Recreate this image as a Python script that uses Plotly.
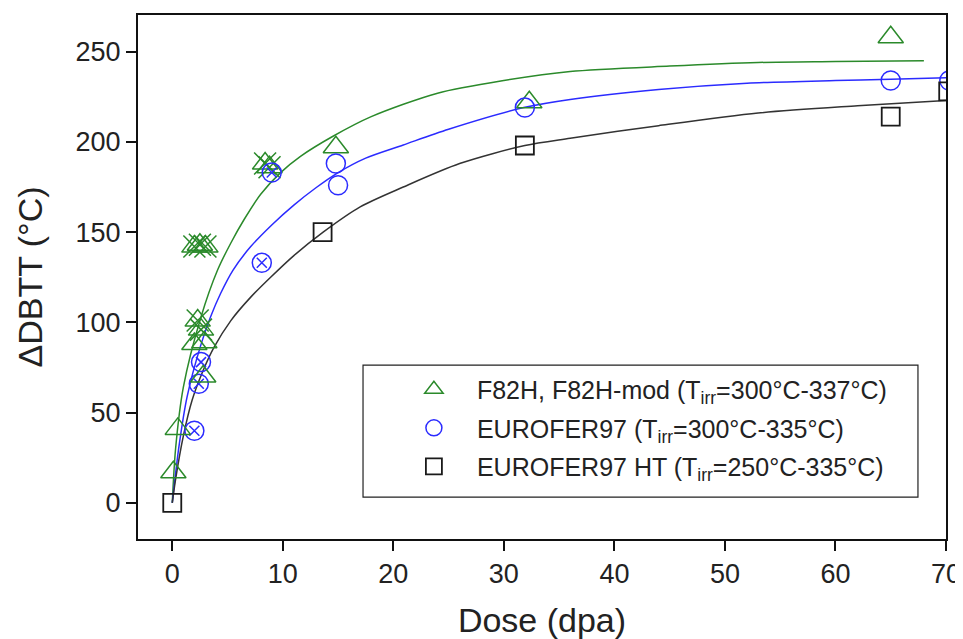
import plotly.graph_objects as go

# ---------------- data ----------------
# F82H, F82H-mod : plain triangles
f82h_x = [0.1, 0.5, 2.0, 2.9, 2.8, 14.8, 32.3, 65.0]
f82h_y = [17, 41, 88, 89, 70, 197, 222, 258]
# F82H crossed triangles
f82h_cx = [2.0, 2.5, 3.0, 2.3, 2.6, 8.4, 8.8]
f82h_cy = [142, 143, 142, 101, 96, 188, 186]

# EUROFER97 : plain circles
euro_x = [14.8, 15.0, 31.9, 65.0, 70.3]
euro_y = [188, 176, 219, 234, 234]
# EUROFER97 crossed circles
euro_cx = [2.0, 2.4, 2.6, 8.1, 9.0]
euro_cy = [40, 66, 78, 133, 183]

# EUROFER97 HT : squares
ht_x = [0.0, 13.6, 31.9, 65.0, 70.2]
ht_y = [0, 150, 198, 214, 228]

# fitted trend curves
fit_g_x = [0, 0.3, 1.0, 2.6, 4.1, 5.3, 6.5, 8.0, 9.8, 11.6, 14.5, 18, 24, 30, 36, 45, 53, 60, 68]
fit_g_y = [0, 30, 64, 103, 129, 144, 157, 171, 183, 192, 203, 214, 227, 234, 239, 242, 244, 244.5, 245]
fit_b_x = [0, 0.6, 1.35, 2.56, 3.46, 4.37, 5.5, 7.1, 9, 11, 13, 14.9, 17.5, 20.9, 25, 31.8, 36, 44, 52, 60, 65, 70]
fit_b_y = [0, 31, 59, 87, 103, 116, 129, 142, 154, 165, 174.6, 182.6, 191, 198.3, 207, 219, 223.5, 229, 232.5, 234, 234.7, 235.5]
fit_k_x = [0, 0.3, 1.0, 1.8, 2.7, 3.76, 5.3, 7.1, 8.9, 11, 13.65, 17, 20.9, 26, 31.9, 36, 44, 53, 62, 70]
fit_k_y = [0, 13, 37, 57, 72, 86, 101, 114, 125, 137, 150, 164, 175, 188, 198, 202, 209, 216, 220, 223]

legend_names = [
    "F82H, F82H-mod (T<sub>irr</sub>=300°C-337°C)",
    "EUROFER97 (T<sub>irr</sub>=300°C-335°C)",
    "EUROFER97 HT (T<sub>irr</sub>=250°C-335°C)",
]
x_ticks = [0, 10, 20, 30, 40, 50, 60, 70]
y_ticks = [0, 50, 100, 150, 200, 250]

GREEN = "#2b8a2b"
BLUE = "#2b2bff"
BLACK = "#1a1a1a"
FONT = "Liberation Sans, Arial, sans-serif"

fig = go.Figure()

# curves
for cx, cy, col in [(fit_g_x, fit_g_y, GREEN), (fit_b_x, fit_b_y, BLUE), (fit_k_x, fit_k_y, "#333333")]:
    fig.add_trace(go.Scatter(x=cx, y=cy, mode="lines", line=dict(color=col, width=1.5, shape="spline", smoothing=0.8),
                             showlegend=False, hoverinfo="skip"))

# crossed markers
fig.add_trace(go.Scatter(x=f82h_cx, y=f82h_cy, mode="markers", showlegend=False,
                         marker=dict(symbol="triangle-up-open", size=22, color=GREEN, line=dict(width=1.5))))
fig.add_trace(go.Scatter(x=f82h_cx, y=f82h_cy, mode="markers", showlegend=False,
                         marker=dict(symbol="x-thin-open", size=22, color=GREEN, line=dict(width=1.5, color=GREEN))))
fig.add_trace(go.Scatter(x=euro_cx, y=euro_cy, mode="markers", showlegend=False,
                         marker=dict(symbol="circle-open", size=19, color=BLUE, line=dict(width=1.5))))
fig.add_trace(go.Scatter(x=euro_cx, y=euro_cy, mode="markers", showlegend=False,
                         marker=dict(symbol="x-thin-open", size=10, color=BLUE, line=dict(width=1.5, color=BLUE))))

# legend traces
fig.add_trace(go.Scatter(x=f82h_x, y=f82h_y, mode="markers", name=legend_names[0], legendgroup="a",
                         marker=dict(symbol="triangle-up-open", size=22, color=GREEN, line=dict(width=1.5))))
fig.add_trace(go.Scatter(x=euro_x, y=euro_y, mode="markers", name=legend_names[1], legendgroup="b",
                         marker=dict(symbol="circle-open", size=19, color=BLUE, line=dict(width=1.5))))
fig.add_trace(go.Scatter(x=ht_x, y=ht_y, mode="markers", name=legend_names[2], legendgroup="c",
                         marker=dict(symbol="square-open", size=18, color=BLACK, line=dict(width=1.8))))

axis_common = dict(showgrid=False, zeroline=False, showline=True, linecolor="#111", linewidth=2,
                   mirror=True, ticks="outside", ticklen=10, tickwidth=1.5, tickcolor="#111",
                   automargin=False,
                   tickfont=dict(size=27, color="#222", family=FONT))

fig.update_xaxes(range=[-3.1, 70], tickvals=x_ticks, ticktext=[str(v) for v in x_ticks],
                 title=dict(text="Dose (dpa)", font=dict(size=34, color="#222", family=FONT), standoff=22),
                 **axis_common)
fig.update_yaxes(range=[-20, 270.3], tickvals=y_ticks, ticktext=[str(v) for v in y_ticks],
                 title=dict(text="ΔDBTT (°C)", font=dict(size=34, color="#222", family=FONT), standoff=23),
                 **axis_common)

# legend frame
fig.add_shape(type="rect", xref="paper", yref="paper", x0=0.2785, x1=0.9653, y0=0.080, y1=0.332,
              line=dict(color="#222", width=1.2), fillcolor="white", layer="above")

# the page body adds an 8px offset, so the figure is sized to fit the window after it
fig.update_layout(
    width=955, height=631,
    margin=dict(l=130, r=17, t=7, b=100),
    paper_bgcolor="white", plot_bgcolor="white",
    font=dict(family=FONT, color="#222"),
    legend=dict(x=0.313, y=0.329, xanchor="left", yanchor="top",
                borderwidth=0, bgcolor="rgba(0,0,0,0)",
                font=dict(size=25, color="#222", family=FONT),
                traceorder="grouped", tracegroupgap=3, itemwidth=76),
)

fig.write_html("out.html")
